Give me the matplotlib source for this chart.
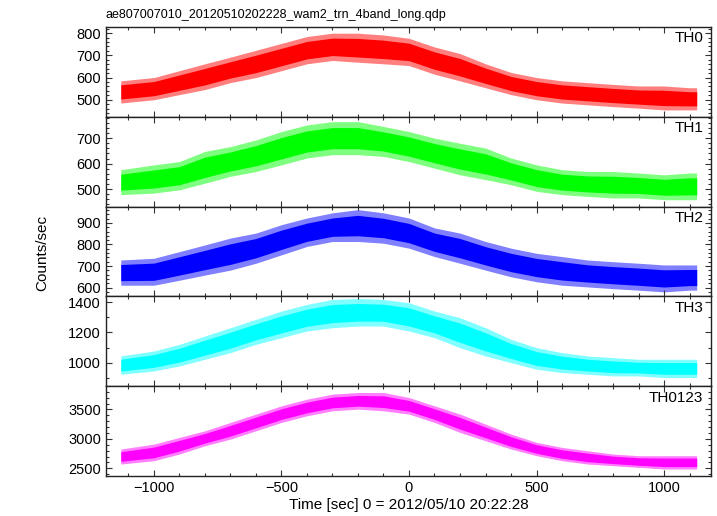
import matplotlib
matplotlib.use("Agg")
import matplotlib.pyplot as plt
from matplotlib.ticker import MultipleLocator

# light curve envelopes (counts/sec), lower / upper edge of the band
times = [-1130, -1000, -900, -800, -700, -600, -500, -400, -300, -200, -100, 0,
         100, 200, 300, 400, 500, 600, 700, 800, 900, 1000, 1100, 1128]

th0_hi = [585, 600, 631, 662, 692, 723, 754, 785, 800, 800, 792, 777,
          738, 708, 662, 623, 600, 585, 577, 569, 562, 562, 554, 554]
th0_lo = [485, 500, 523, 546, 577, 600, 631, 662, 677, 669, 662, 654,
          615, 585, 554, 523, 500, 485, 477, 469, 462, 454, 454, 454]

th1_hi = [576, 595, 608, 648, 667, 693, 726, 752, 765, 765, 746, 726,
          700, 680, 661, 622, 595, 576, 569, 569, 563, 556, 563, 563]
th1_lo = [478, 484, 497, 523, 550, 569, 595, 622, 635, 635, 628, 608,
          582, 556, 537, 517, 491, 478, 471, 465, 465, 458, 458, 458]

th2_hi = [728, 736, 767, 798, 830, 853, 892, 923, 947, 962, 947, 923,
          877, 853, 814, 783, 759, 744, 728, 720, 713, 705, 705, 705]
th2_lo = [611, 611, 634, 658, 681, 713, 752, 791, 814, 814, 806, 783,
          744, 713, 681, 650, 627, 611, 603, 595, 588, 580, 588, 588]

th3_hi = [1044, 1077, 1121, 1176, 1231, 1286, 1341, 1385, 1418, 1424, 1418, 1396,
          1341, 1297, 1231, 1154, 1099, 1066, 1044, 1033, 1022, 1022, 1022, 1022]
th3_lo = [923, 945, 978, 1022, 1066, 1121, 1165, 1209, 1231, 1242, 1242, 1209,
          1165, 1099, 1044, 1000, 956, 934, 923, 912, 912, 901, 901, 901]

th0123_hi = [2828, 2912, 3025, 3138, 3280, 3421, 3562, 3675, 3760, 3788, 3788, 3703,
             3562, 3421, 3251, 3082, 2941, 2856, 2799, 2743, 2715, 2715, 2715, 2715]
th0123_lo = [2573, 2630, 2743, 2884, 2997, 3138, 3280, 3393, 3477, 3506, 3477, 3421,
             3280, 3110, 2969, 2828, 2715, 2630, 2573, 2545, 2517, 2489, 2489, 2489]

band_names = ["TH0", "TH1", "TH2", "TH3", "TH0123"]
title = "ae807007010_20120510202228_wam2_trn_4band_long.qdp"


def draw_figure():
    plt.rcParams['font.family'] = ['Liberation Sans', 'DejaVu Sans']
    panels = [
        (th0_lo, th0_hi, "#ff0000", (423, 828), 100, 20),
        (th1_lo, th1_hi, "#00ff00", (431, 784), 100, 20),
        (th2_lo, th2_hi, "#0000ff", (559, 976), 100, 20),
        (th3_lo, th3_hi, "#00ffff", (844, 1438), 200, 100),
        (th0123_lo, th0123_hi, "#ff00ff", (2370, 3895), 500, 100),
    ]

    fig, axes = plt.subplots(5, 1, sharex=True, figsize=(7.17, 5.16), dpi=100)
    fig.subplots_adjust(left=0.1478, right=0.9916, top=0.9477, bottom=0.0775, hspace=0)

    for ax, (lo, hi, color, ylim, major, minor), name in zip(axes, panels, band_names):
        # outer band a bit lighter, like the antialiased edge of the noisy trace
        ax.fill_between(times, lo, hi, color=color, alpha=0.5, lw=0)
        inner_lo = [l + 0.18 * (h - l) for l, h in zip(lo, hi)]
        inner_hi = [h - 0.18 * (h - l) for l, h in zip(lo, hi)]
        ax.fill_between(times, inner_lo, inner_hi, color=color, lw=0)

        ax.set_ylim(*ylim)
        ax.set_xlim(-1188, 1184)
        ax.yaxis.set_major_locator(MultipleLocator(major))
        ax.yaxis.set_minor_locator(MultipleLocator(minor))
        ax.xaxis.set_major_locator(MultipleLocator(500))
        ax.xaxis.set_minor_locator(MultipleLocator(100))
        ax.tick_params(which='both', direction='in', top=True, right=True,
                       labelsize=10.5, color='#333333', width=0.8)
        ax.tick_params(which='major', length=4)
        ax.tick_params(which='minor', length=2)
        for sp in ax.spines.values():
            sp.set_linewidth(1.0)
            sp.set_color('#222222')
        ax.text(0.987, 0.95, name, transform=ax.transAxes, ha='right', va='top',
                fontsize=11)

    axes[-1].set_xlabel("Time [sec] 0 = 2012/05/10 20:22:28", fontsize=11, labelpad=2)
    fig.text(42 / 717, 0.51, "Counts/sec", rotation=90, ha='center', va='center',
             fontsize=11)
    fig.text(106 / 717, 1 - 15 / 516, title, ha='left', va='center', fontsize=9)

    plt.savefig('out.png', dpi=100)


if __name__ == "__main__":
    draw_figure()
